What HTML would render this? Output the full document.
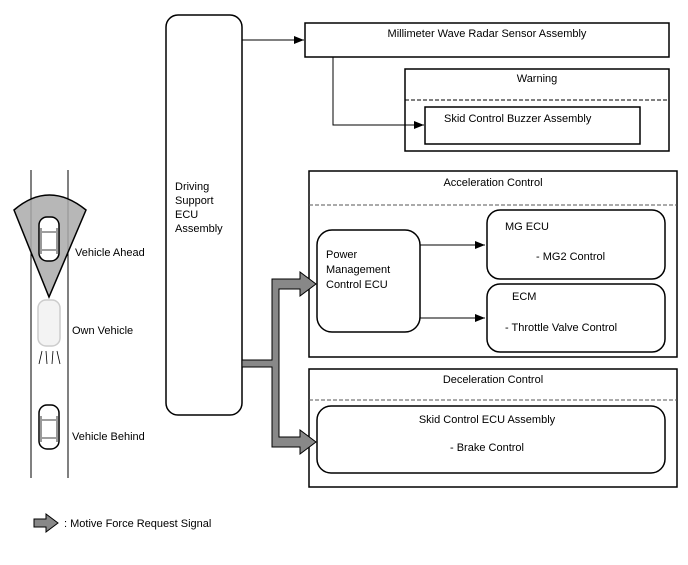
<!DOCTYPE html>
<html><head><style>
body{margin:0;background:#fff}
svg text{font-family:"Liberation Sans",sans-serif;font-size:11px;fill:#000}
</style></head><body>
<svg width="688" height="560" viewBox="0 0 688 560" xmlns="http://www.w3.org/2000/svg">
<defs><marker id="a" markerWidth="10" markerHeight="8" refX="10" refY="4" orient="auto" markerUnits="userSpaceOnUse"><path d="M0,0 L10,4 L0,8 z" fill="#000"/></marker></defs>
<!-- road -->
<line x1="31" y1="170" x2="31" y2="478" stroke="#000" stroke-width="1"/>
<line x1="68" y1="170" x2="68" y2="478" stroke="#000" stroke-width="1"/>
<path d="M14,210 Q49,180 86,210 L49,297 Z" fill="#aaa" stroke="#000" stroke-width="1.5" fill-opacity="0.85"/>
<!-- cars -->
<g fill="#fff" stroke="#000" stroke-width="1.5">
<rect x="39" y="217" width="20" height="44" rx="8"/>
<rect x="39" y="405" width="20" height="44" rx="8"/>
</g>
<g fill="none" stroke="#000" stroke-width="0.8">
<path d="M42,232 h14 M42,250 h14 M41,228 L41,254 M57,228 L57,254"/>
<path d="M42,420 h14 M42,438 h14 M41,416 L41,442 M57,416 L57,442"/>
</g>
<rect x="38" y="300" width="22" height="46" rx="8" fill="#f3f3f3" stroke="#ccc" stroke-width="1.5"/>
<path d="M39,364 L42,351 M47,364 L46,351 M52,364 L53,351 M60,364 L57,351" stroke="#000" stroke-width="0.8"/>
<text x="75" y="256">Vehicle Ahead</text>
<text x="72" y="334">Own Vehicle</text>
<text x="72" y="440">Vehicle Behind</text>
<!-- driving support -->
<rect x="166" y="15" width="76" height="400" rx="12" fill="#fff" stroke="#000" stroke-width="1.5"/>
<text x="175" y="190">Driving</text>
<text x="175" y="204">Support</text>
<text x="175" y="218">ECU</text>
<text x="175" y="232">Assembly</text>
<!-- radar -->
<rect x="305" y="23" width="364" height="34" fill="#fff" stroke="#000" stroke-width="1.5"/>
<text x="487" y="37" text-anchor="middle">Millimeter Wave Radar Sensor Assembly</text>
<line x1="242" y1="40" x2="304" y2="40" stroke="#000" marker-end="url(#a)"/>
<rect x="405" y="69" width="264" height="82" fill="#fff" stroke="#000" stroke-width="1.5"/>
<text x="537" y="82" text-anchor="middle">Warning</text>
<line x1="405" y1="100" x2="669" y2="100" stroke="#000" stroke-dasharray="4,2"/>
<rect x="425" y="107" width="215" height="37" fill="#fff" stroke="#000" stroke-width="1.5"/>
<text x="444" y="122">Skid Control Buzzer Assembly</text>
<polyline points="333,57 333,125 424,125" fill="none" stroke="#000" marker-end="url(#a)"/>
<!-- accel -->
<rect x="309" y="171" width="368" height="186" fill="#fff" stroke="#000" stroke-width="1.5"/>
<text x="493" y="186" text-anchor="middle">Acceleration Control</text>
<line x1="309" y1="205" x2="677" y2="205" stroke="#555" stroke-dasharray="4,2"/>
<rect x="317" y="230" width="103" height="102" rx="15" fill="#fff" stroke="#000" stroke-width="1.5"/>
<text x="326" y="258">Power</text>
<text x="326" y="273">Management</text>
<text x="326" y="288">Control ECU</text>
<rect x="487" y="210" width="178" height="69" rx="13" fill="#fff" stroke="#000" stroke-width="1.5"/>
<text x="505" y="230">MG ECU</text>
<text x="536" y="260">- MG2 Control</text>
<rect x="487" y="284" width="178" height="68" rx="13" fill="#fff" stroke="#000" stroke-width="1.5"/>
<text x="512" y="300">ECM</text>
<text x="505" y="331">- Throttle Valve Control</text>
<line x1="420" y1="245" x2="485" y2="245" stroke="#000" marker-end="url(#a)"/>
<line x1="420" y1="318" x2="485" y2="318" stroke="#000" marker-end="url(#a)"/>
<!-- decel -->
<rect x="309" y="369" width="368" height="118" fill="#fff" stroke="#000" stroke-width="1.5"/>
<text x="493" y="383" text-anchor="middle">Deceleration Control</text>
<line x1="309" y1="400" x2="677" y2="400" stroke="#555" stroke-dasharray="4,2"/>
<rect x="317" y="406" width="348" height="67" rx="14" fill="#fff" stroke="#000" stroke-width="1.5"/>
<text x="487" y="423" text-anchor="middle">Skid Control ECU Assembly</text>
<text x="487" y="451" text-anchor="middle">- Brake Control</text>
<!-- big arrow -->
<path d="M242,360 L272,360 L272,279 L300,279 L300,272 L316,284 L300,296 L300,289 L279,289 L279,437 L300,437 L300,430 L316,442 L300,454 L300,447 L272,447 L272,367 L242,367 Z" fill="#888" stroke="#000" stroke-width="1"/>
<!-- legend -->
<path d="M34,519 L46,519 L46,514 L58,523 L46,532 L46,527 L34,527 Z" fill="#888" stroke="#000" stroke-width="1"/>
<text x="64" y="527">: Motive Force Request Signal</text>
</svg>
</body></html>
